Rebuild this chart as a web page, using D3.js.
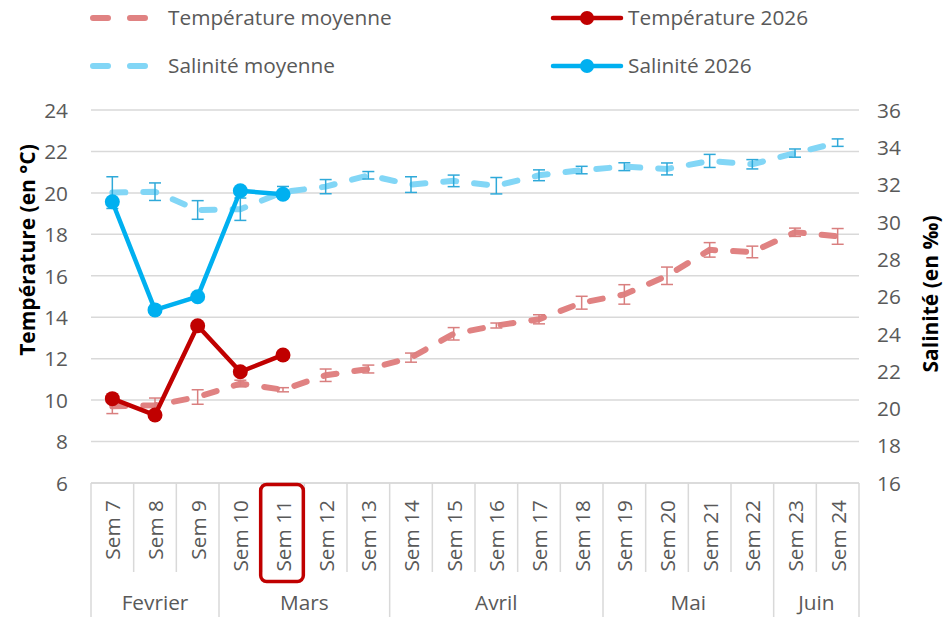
<!DOCTYPE html>
<html>
<head>
<meta charset="utf-8">
<script src="https://cdn.jsdelivr.net/npm/d3@7"></script>
<style>
  html, body { margin: 0; padding: 0; background: #fff; }
  svg { display: block; font-family: "Open Sans", sans-serif; }
</style>
</head>
<body>
<svg id="chart" width="947" height="617"></svg>
<script>
// ---- DATA ----
const weeks = ["Sem 7","Sem 8","Sem 9","Sem 10","Sem 11","Sem 12","Sem 13","Sem 14","Sem 15","Sem 16","Sem 17","Sem 18","Sem 19","Sem 20","Sem 21","Sem 22","Sem 23","Sem 24"];
const months = ["Fevrier","Mars","Avril","Mai","Juin"];
const weeksPerMonth = [3,4,5,4,2];
const tempMoy = [9.7, 9.75, 10.15, 10.8, 10.5, 11.2, 11.5, 12.05, 13.2, 13.6, 13.9, 14.7, 15.1, 16.0, 17.25, 17.15, 18.1, 17.9];
const tempMoyErr = [0.35, 0.35, 0.35, 0.16, 0.1, 0.3, 0.19, 0.22, 0.3, 0.12, 0.22, 0.31, 0.47, 0.42, 0.35, 0.28, 0.2, 0.38];
const temp2026 = [10.07, 9.28, 13.59, 11.37, 12.18];
const salMoy = [31.57, 31.62, 30.64, 30.68, 31.6, 31.89, 32.5, 32.0, 32.2, 31.94, 32.5, 32.78, 32.96, 32.84, 33.27, 33.09, 33.69, 34.25];
const salMoyErr = [0.85, 0.47, 0.5, 0.6, 0.3, 0.38, 0.2, 0.42, 0.31, 0.44, 0.29, 0.2, 0.21, 0.32, 0.35, 0.25, 0.22, 0.2];
const sal2026 = [31.08, 25.28, 25.99, 31.67, 31.48];
const leftTicks = [6,8,10,12,14,16,18,20,22,24];
const rightTicks = [16,18,20,22,24,26,28,30,32,34,36];
const highlightWeek = "Sem 11";
const seriesNames = ["Température moyenne","Température 2026","Salinité moyenne","Salinité 2026"];

// ---- LAYOUT ----
const W = 947, H = 617;
const plot = {left: 91, right: 859, top: 110, bottom: 483};
const C = {
  tempMoy: "#e08282", tempErr: "#d97f7f",
  temp26: "#c00000",
  salMoy: "#82d6f6", salErr: "#2fa9d9",
  sal26: "#00b0f0",
  grid: "#d9d9d9", text: "#595959"
};
const FS = 20.8;

const svg = d3.select("#chart");
const x = d3.scaleBand().domain(weeks).range([plot.left, plot.right]).padding(0);
const yL = d3.scaleLinear().domain([6, 24]).range([plot.bottom, plot.top]);
const yR = d3.scaleLinear().domain([16, 36]).range([plot.bottom, plot.top]);
const cx = w => x(w) + x.bandwidth() / 2;

// gridlines
svg.append("g").selectAll("line").data(leftTicks).join("line")
  .attr("x1", plot.left).attr("x2", plot.right)
  .attr("y1", d => yL(d)).attr("y2", d => yL(d))
  .attr("stroke", C.grid).attr("stroke-width", 1.5);

// left axis labels
const axL = d3.axisLeft(yL).tickValues(leftTicks).tickSize(0).tickPadding(0);
const gL = svg.append("g").attr("transform", `translate(68,0)`).call(axL);
gL.select(".domain").remove();
gL.selectAll("text").attr("fill", C.text).attr("font-size", FS).attr("font-family", "Open Sans, sans-serif").attr("dy", "0.35em");

// right axis labels
const axR = d3.axisRight(yR).tickValues(rightTicks).tickSize(0).tickPadding(0);
const gR = svg.append("g").attr("transform", `translate(877,0)`).call(axR);
gR.select(".domain").remove();
gR.selectAll("text").attr("fill", C.text).attr("font-size", FS).attr("font-family", "Open Sans, sans-serif").attr("dy", "0.35em");

// axis titles
svg.append("text").attr("transform", `translate(35,250) rotate(-90)`)
  .attr("text-anchor", "middle").attr("font-weight", "bold").attr("font-size", 21).attr("fill", "#000")
  .text("Température (en °C)");
svg.append("text").attr("transform", `translate(938,294) rotate(-90)`)
  .attr("text-anchor", "middle").attr("font-weight", "bold").attr("font-size", 21).attr("fill", "#000")
  .text("Salinité (en ‰)");

// category axis (multi-level)
const gx = svg.append("g");
gx.append("line").attr("x1", plot.left).attr("x2", plot.right).attr("y1", plot.bottom).attr("y2", plot.bottom)
  .attr("stroke", C.grid).attr("stroke-width", 1.5);
const bounds = weeks.map(w => x(w)).concat([plot.right]);
const monthStarts = [0];
weeksPerMonth.forEach((n, i) => monthStarts.push(monthStarts[i] + n));
gx.selectAll("line.wk").data(bounds.map((b, i) => ({b, i}))).join("line").attr("class", "wk")
  .attr("x1", d => d.b).attr("x2", d => d.b)
  .attr("y1", plot.bottom)
  .attr("y2", d => monthStarts.includes(d.i) ? H : 572)
  .attr("stroke", C.grid).attr("stroke-width", 1.5);
gx.selectAll("text.wk").data(weeks).join("text").attr("class", "wk")
  .attr("transform", d => `translate(${cx(d)},500) rotate(-90)`)
  .attr("text-anchor", "end").attr("dominant-baseline", "central")
  .attr("font-size", FS).attr("fill", C.text).text(d => d);
gx.selectAll("text.mo").data(months.map((m, i) => ({m, i}))).join("text").attr("class", "mo")
  .attr("x", d => (bounds[monthStarts[d.i]] + bounds[monthStarts[d.i + 1]]) / 2)
  .attr("y", 610).attr("text-anchor", "middle")
  .attr("font-size", FS).attr("fill", C.text).text(d => d.m);

// highlight box
svg.append("rect")
  .attr("x", x(highlightWeek) - 1).attr("y", 484.5)
  .attr("width", x.bandwidth()).attr("height", 97)
  .attr("rx", 6).attr("ry", 6)
  .attr("fill", "none").attr("stroke", C.temp26).attr("stroke-width", 3.5);

// dashed mean lines
const lineL = d3.line().x((d, i) => cx(weeks[i])).y(d => yL(d));
const lineR = d3.line().x((d, i) => cx(weeks[i])).y(d => yR(d));
const DASH = "13,18";
svg.append("path").attr("d", lineR(salMoy)).attr("fill", "none")
  .attr("stroke", C.salMoy).attr("stroke-width", 6).attr("stroke-linecap", "round").attr("stroke-dasharray", DASH);
svg.append("path").attr("d", lineL(tempMoy)).attr("fill", "none")
  .attr("stroke", C.tempMoy).attr("stroke-width", 6).attr("stroke-linecap", "round").attr("stroke-dasharray", DASH);

// error bars
function errBars(vals, errs, scale, color) {
  const g = svg.append("g").attr("stroke", color).attr("stroke-width", 1.5).attr("fill", "none");
  vals.forEach((v, i) => {
    const xc = cx(weeks[i]);
    const y1 = scale(v + errs[i]), y2 = scale(v - errs[i]);
    g.append("line").attr("x1", xc).attr("x2", xc).attr("y1", y1).attr("y2", y2);
    g.append("line").attr("x1", xc - 6).attr("x2", xc + 6).attr("y1", y1).attr("y2", y1);
    g.append("line").attr("x1", xc - 6).attr("x2", xc + 6).attr("y1", y2).attr("y2", y2);
  });
}
errBars(salMoy, salMoyErr, yR, C.salErr);
errBars(tempMoy, tempMoyErr, yL, C.tempErr);

// 2026 lines
function solid(vals, scale, color, lineGen) {
  svg.append("path").attr("d", lineGen(vals)).attr("fill", "none")
    .attr("stroke", color).attr("stroke-width", 4.5).attr("stroke-linejoin", "round");
  svg.append("g").selectAll("circle").data(vals).join("circle")
    .attr("cx", (d, i) => cx(weeks[i])).attr("cy", d => scale(d)).attr("r", 7.5).attr("fill", color);
}
solid(sal2026, yR, C.sal26, lineR);
solid(temp2026, yL, C.temp26, lineL);

// legend
const leg = svg.append("g");
const legItems = [
  {name: seriesNames[0], color: C.tempMoy, dashed: true, x: 90, y: 18},
  {name: seriesNames[1], color: C.temp26, dashed: false, x: 552, y: 18},
  {name: seriesNames[2], color: C.salMoy, dashed: true, x: 90, y: 66},
  {name: seriesNames[3], color: C.sal26, dashed: false, x: 552, y: 66}
];
legItems.forEach(it => {
  if (it.dashed) {
    leg.append("line").attr("x1", it.x + 3).attr("x2", it.x + 56).attr("y1", it.y).attr("y2", it.y)
      .attr("stroke", it.color).attr("stroke-width", 6).attr("stroke-linecap", "round").attr("stroke-dasharray", "15,22");
    leg.append("text").attr("x", 168).attr("y", it.y).attr("dy", "0.35em")
      .attr("font-size", FS).attr("fill", C.text).text(it.name);
  } else {
    leg.append("line").attr("x1", it.x + 1).attr("x2", it.x + 69).attr("y1", it.y).attr("y2", it.y)
      .attr("stroke", it.color).attr("stroke-width", 4.5).attr("stroke-linecap", "round");
    leg.append("circle").attr("cx", it.x + 35).attr("cy", it.y).attr("r", 7).attr("fill", it.color);
    leg.append("text").attr("x", 628).attr("y", it.y).attr("dy", "0.35em")
      .attr("font-size", FS).attr("fill", C.text).text(it.name);
  }
});
</script>
</body>
</html>
